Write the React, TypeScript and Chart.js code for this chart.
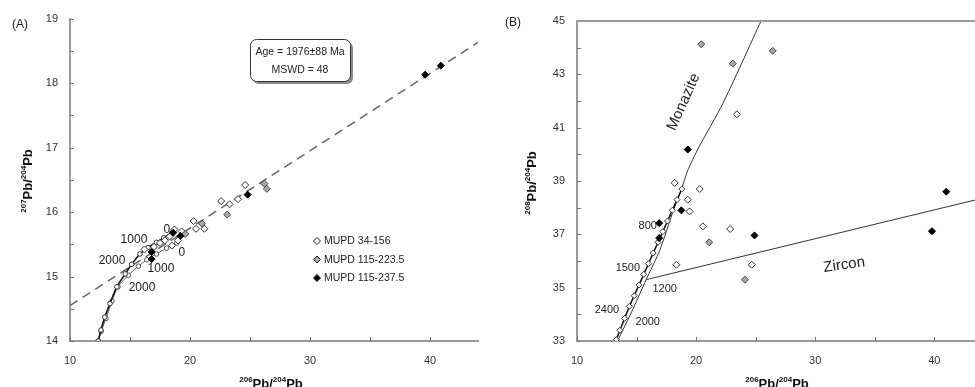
import React, { useEffect, useRef } from "react";
import { Chart, registerables } from "chart.js";
Chart.register(...registerables);

const FONT = "'Liberation Sans', Arial, Helvetica, sans-serif";

// ---------------- Panel A : 207Pb/204Pb vs 206Pb/204Pb ----------------
const xTicksA = [10, 15, 20, 25, 30, 35, 40];
const xLabelsA = [10, 20, 30, 40];
const yTicksA = [14, 14.5, 15, 15.5, 16, 16.5, 17, 17.5, 18, 18.5, 19];
const yLabelsA = [14, 15, 16, 17, 18, 19];

const regressionX = [10, 44];
const regressionY = [14.55, 18.63];

const curveA1X = [12.35, 12.58, 12.9, 13.33, 13.9, 14.6, 15.14, 15.83, 16.5, 17.2, 17.8, 18.5];
const curveA1Y = [14.0, 14.17, 14.37, 14.58, 14.84, 15.04, 15.19, 15.35, 15.45, 15.53, 15.6, 15.68];
const curveA2X = [12.35, 12.6, 13.0, 13.5, 14.0, 14.86, 15.7, 16.4, 17.2, 18.05, 18.9];
const curveA2Y = [14.0, 14.15, 14.35, 14.62, 14.84, 15.02, 15.16, 15.26, 15.35, 15.44, 15.52];

const openAX = [16.2, 17.0, 17.5, 17.9, 18.3, 18.7, 19.0, 18.5, 19.3, 20.3, 20.5, 21.2, 22.6, 23.3, 24.0, 24.6];
const openAY = [15.42, 15.46, 15.52, 15.56, 15.62, 15.73, 15.56, 15.48, 15.7, 15.86, 15.74, 15.74, 16.17, 16.12, 16.2, 16.42];
const grayAX = [19.6, 21.0, 23.1, 26.2, 26.4];
const grayAY = [15.66, 15.82, 15.96, 16.44, 16.36];
const blackAX = [16.8, 16.8, 18.6, 19.2, 24.8, 39.6, 40.9];
const blackAY = [15.38, 15.27, 15.68, 15.63, 16.27, 18.13, 18.27];

const ageTextA = ["1000", "2000", "0", "1000", "2000", "0"];
const ageXA = [15.33, 13.5, 18.08, 17.58, 16.0, 19.33];
const ageYA = [15.57, 15.25, 15.72, 15.12, 14.83, 15.37];

const legendNames = ["MUPD 34-156", "MUPD 115-223.5", "MUPD 115-237.5"];
const ageBoxLines = ["Age = 1976±88 Ma", "MSWD = 48"];

// ---------------- Panel B : 208Pb/204Pb vs 206Pb/204Pb ----------------
const xTicksB = [10, 15, 20, 25, 30, 35, 40];
const xLabelsB = [10, 20, 30, 40];
const yTicksB = [33, 34, 35, 36, 37, 38, 39, 40, 41, 42, 43, 44, 45];
const yLabelsB = [33, 35, 37, 39, 41, 43, 45];

const monaziteX = [13.4, 14.7, 15.8, 16.95, 18.06, 18.76, 19.3, 20.15, 22.24, 25.45];
const monaziteY = [33.0, 34.2, 35.3, 36.4, 37.86, 38.68, 39.4, 40.2, 41.9, 45.0];
const zirconX = [15.8, 44];
const zirconY = [35.3, 38.35];
const growthBX = [13.3, 13.6, 14.0, 14.4, 14.8, 15.2, 15.6, 16.0, 16.4, 16.8, 17.2, 17.6, 18.0, 18.4, 18.8];
const growthBY = [33.05, 33.4, 33.85, 34.3, 34.7, 35.1, 35.5, 35.9, 36.3, 36.7, 37.1, 37.5, 37.9, 38.3, 38.7];

const openBX = [18.2, 19.3, 19.45, 20.3, 20.57, 18.34, 22.86, 24.67, 23.42];
const openBY = [38.93, 38.3, 37.86, 38.7, 37.3, 35.86, 37.2, 35.86, 41.5];
const grayBX = [20.43, 23.08, 26.43, 21.1, 24.1];
const grayBY = [44.13, 43.4, 43.88, 36.7, 35.3];
const blackBX = [19.3, 16.9, 16.9, 18.76, 24.9, 39.8, 41.0];
const blackBY = [40.18, 37.42, 36.86, 37.9, 36.96, 37.12, 38.6];

const ageTextB = ["800", "1500", "1200", "2400", "2000"];
const ageXB = [15.94, 14.27, 17.36, 12.51, 15.94];
const ageYB = [37.31, 35.74, 34.95, 34.16, 33.71];

// -------------------------------------------------------------------
const pts = (xs: number[], ys: number[]) => xs.map((x, i) => ({ x, y: ys[i] }));

function drawIsotope(ctx: CanvasRenderingContext2D, cx: number, cy: number, rot: number, a: string, b: string) {
  const parts: [string, boolean][] = [[a, true], ["Pb", false], ["/", false], [b, true], ["Pb", false]];
  const big = `bold 13px ${FONT}`;
  const small = `bold 8px ${FONT}`;
  let total = 0;
  const widths = parts.map(([t, s]) => {
    ctx.font = s ? small : big;
    const w = ctx.measureText(t).width;
    total += w;
    return w;
  });
  ctx.save();
  ctx.translate(cx, cy);
  ctx.rotate(rot);
  ctx.fillStyle = "#111";
  ctx.textBaseline = "alphabetic";
  ctx.textAlign = "left";
  let x = -total / 2;
  parts.forEach(([t, s], i) => {
    ctx.font = s ? small : big;
    ctx.fillText(t, x, s ? -1 : 5);
    x += widths[i];
  });
  ctx.restore();
}

function drawInwardTicks(chart: any) {
  const { ctx, chartArea: a, scales } = chart;
  const sx = scales.x, sy = scales.y;
  ctx.save();
  ctx.strokeStyle = "#777";
  ctx.lineWidth = 1;
  sx.ticks.forEach((t: any) => {
    const p = Math.round(sx.getPixelForValue(t.value)) + 0.5;
    ctx.beginPath();
    ctx.moveTo(p, a.bottom);
    ctx.lineTo(p, a.bottom - 4);
    ctx.stroke();
  });
  sy.ticks.forEach((t: any) => {
    const p = Math.round(sy.getPixelForValue(t.value)) + 0.5;
    ctx.beginPath();
    ctx.moveTo(a.left, p);
    ctx.lineTo(a.left + 4, p);
    ctx.stroke();
  });
  ctx.restore();
}

function diamond(ctx: CanvasRenderingContext2D, x: number, y: number, r: number, fill: string) {
  ctx.beginPath();
  ctx.moveTo(x, y - r);
  ctx.lineTo(x + r, y);
  ctx.lineTo(x, y + r);
  ctx.lineTo(x - r, y);
  ctx.closePath();
  ctx.fillStyle = fill;
  ctx.fill();
  ctx.strokeStyle = "#222";
  ctx.lineWidth = 1;
  ctx.stroke();
}

const decorA = {
  id: "decorA",
  afterDraw(chart: any) {
    const { ctx, scales } = chart;
    const sx = scales.x, sy = scales.y;
    drawInwardTicks(chart);
    ctx.save();
    // age labels on growth curves
    ctx.font = `12px ${FONT}`;
    ctx.fillStyle = "#222";
    ctx.textAlign = "center";
    ctx.textBaseline = "middle";
    ageTextA.forEach((t, i) => ctx.fillText(t, sx.getPixelForValue(ageXA[i]), sy.getPixelForValue(ageYA[i])));
    // age box
    const bx = 250, by = 39, bw = 100, bh = 42;
    ctx.fillStyle = "#8a8a8a";
    ctx.beginPath();
    ctx.roundRect(bx + 3, by + 3, bw, bh, 6);
    ctx.fill();
    ctx.fillStyle = "#fff";
    ctx.strokeStyle = "#333";
    ctx.lineWidth = 1;
    ctx.beginPath();
    ctx.roundRect(bx + 0.5, by + 0.5, bw, bh, 6);
    ctx.fill();
    ctx.stroke();
    ctx.fillStyle = "#222";
    ctx.font = `10.5px ${FONT}`;
    ctx.fillText(ageBoxLines[0], bx + bw / 2, 52);
    ctx.fillText(ageBoxLines[1], bx + bw / 2, 70);
    // legend
    const fills = ["#fff", "#a8a8a8", "#000"];
    ctx.textAlign = "left";
    legendNames.forEach((n, i) => {
      const ly = 241 + i * 18.5;
      diamond(ctx, 317, ly, 3.5, fills[i]);
      ctx.fillStyle = "#222";
      ctx.font = `10.5px ${FONT}`;
      ctx.fillText(n, 324, ly + 0.5);
    });
    // panel letter
    ctx.font = `12px ${FONT}`;
    ctx.textAlign = "center";
    ctx.fillText("(A)", 20, 25);
    ctx.restore();
    drawIsotope(ctx, 27, 181, -Math.PI / 2, "207", "204");
    drawIsotope(ctx, 271, 383, 0, "206", "204");
  },
};

const decorB = {
  id: "decorB",
  afterDraw(chart: any) {
    const { ctx, scales, chartArea: a } = chart;
    const sx = scales.x, sy = scales.y;
    drawInwardTicks(chart);
    ctx.save();
    ctx.strokeStyle = "#9a9a9a";
    ctx.lineWidth = 2;
    ctx.beginPath();
    ctx.moveTo(a.left, a.top);
    ctx.lineTo(a.right, a.top);
    ctx.lineTo(a.right, a.bottom);
    ctx.stroke();
    ctx.font = `11px ${FONT}`;
    ctx.fillStyle = "#222";
    ctx.textAlign = "center";
    ctx.textBaseline = "middle";
    ageTextB.forEach((t, i) => ctx.fillText(t, sx.getPixelForValue(ageXB[i]), sy.getPixelForValue(ageYB[i])));
    ctx.font = `15px ${FONT}`;
    ctx.save();
    ctx.translate(sx.getPixelForValue(18.95), sy.getPixelForValue(41.96));
    ctx.rotate((-66 * Math.PI) / 180);
    ctx.fillText("Monazite", 0, 0);
    ctx.restore();
    ctx.save();
    ctx.translate(sx.getPixelForValue(32.43), sy.getPixelForValue(35.85));
    ctx.rotate((-8 * Math.PI) / 180);
    ctx.fillText("Zircon", 0, 0);
    ctx.restore();
    ctx.font = `12px ${FONT}`;
    ctx.fillText("(B)", 26, 23);
    ctx.restore();
    drawIsotope(ctx, 531 - 487, 183, -Math.PI / 2, "208", "204");
    drawIsotope(ctx, 777 - 487, 383, 0, "206", "204");
  },
};

function axisX(min: number, max: number, ticks: number[], labels: number[]) {
  return {
    type: "linear",
    min,
    max,
    afterBuildTicks: (s: any) => {
      s.ticks = ticks.map((v) => ({ value: v }));
    },
    afterFit: (s: any) => {
      s.height = 46;
    },
    grid: { display: true, drawOnChartArea: false, drawTicks: false },
    border: { display: true, color: "#9a9a9a", width: 2 },
    ticks: {
      padding: 13,
      autoSkip: false,
      maxRotation: 0,
      color: "#333",
      font: { family: FONT, size: 11 },
      callback: (v: number) => (labels.includes(v) ? String(v) : ""),
    },
  };
}

function axisY(min: number, max: number, ticks: number[], labels: number[], width: number) {
  return {
    type: "linear",
    min,
    max,
    afterBuildTicks: (s: any) => {
      s.ticks = ticks.map((v) => ({ value: v }));
    },
    afterFit: (s: any) => {
      s.width = width;
    },
    grid: { display: true, drawOnChartArea: false, drawTicks: false },
    border: { display: true, color: "#9a9a9a", width: 2 },
    ticks: {
      padding: 12,
      autoSkip: false,
      color: "#333",
      font: { family: FONT, size: 11 },
      callback: (v: number) => (labels.includes(v) ? String(v) : ""),
    },
  };
}

const pointSet = (data: any[], fill: string, border: string) => ({
  data,
  pointStyle: "rectRot",
  pointRadius: 3.5,
  pointBackgroundColor: fill,
  pointBorderColor: border,
  pointBorderWidth: 1,
  showLine: false,
});

export default function App() {
  const refA = useRef<HTMLCanvasElement>(null);
  const refB = useRef<HTMLCanvasElement>(null);

  useEffect(() => {
    const chartA = new Chart(refA.current as HTMLCanvasElement, {
      type: "scatter",
      data: {
        datasets: [
          pointSet(pts(blackAX, blackAY), "#000", "#000"),
          pointSet(pts(grayAX, grayAY), "#a8a8a8", "#444"),
          pointSet(pts(openAX, openAY), "#fff", "#333"),
          {
            data: pts(curveA1X, curveA1Y),
            showLine: true,
            borderColor: "#111",
            borderWidth: 1.6,
            tension: 0.3,
            pointStyle: "circle",
            pointRadius: 2.3,
            pointBackgroundColor: "#fff",
            pointBorderColor: "#333",
            pointBorderWidth: 1,
          },
          {
            data: pts(curveA2X, curveA2Y),
            showLine: true,
            borderColor: "#666",
            borderWidth: 1,
            tension: 0.3,
            pointStyle: "circle",
            pointRadius: 2.3,
            pointBackgroundColor: "#fff",
            pointBorderColor: "#555",
            pointBorderWidth: 1,
          },
          {
            data: pts(regressionX, regressionY),
            showLine: true,
            borderColor: "#666",
            borderWidth: 1.5,
            borderDash: [9, 6],
            pointRadius: 0,
          },
        ],
      },
      options: {
        animation: false,
        responsive: false,
        maintainAspectRatio: false,
        layout: { padding: { left: 0, right: 9, top: 18, bottom: 0 } },
        plugins: { legend: { display: false }, tooltip: { enabled: false } },
        scales: {
          x: axisX(10, 44, xTicksA, xLabelsA),
          y: axisY(14, 19, yTicksA, yLabelsA, 70),
        },
      } as any,
      plugins: [decorA],
    } as any);

    const chartB = new Chart(refB.current as HTMLCanvasElement, {
      type: "scatter",
      data: {
        datasets: [
          pointSet(pts(blackBX, blackBY), "#000", "#000"),
          pointSet(pts(grayBX, grayBY), "#a8a8a8", "#444"),
          pointSet(pts(openBX, openBY), "#fff", "#333"),
          {
            data: pts(growthBX, growthBY),
            showLine: true,
            borderColor: "#111",
            borderWidth: 1.5,
            pointStyle: "rectRot",
            pointRadius: 3,
            pointBackgroundColor: "#fff",
            pointBorderColor: "#333",
            pointBorderWidth: 1,
          },
          {
            data: pts(monaziteX, monaziteY),
            showLine: true,
            borderColor: "#333",
            borderWidth: 1,
            tension: 0.2,
            pointRadius: 0,
          },
          {
            data: pts(zirconX, zirconY),
            showLine: true,
            borderColor: "#333",
            borderWidth: 1,
            pointRadius: 0,
          },
        ],
      },
      options: {
        animation: false,
        responsive: false,
        maintainAspectRatio: false,
        layout: { padding: { left: 0, right: 4, top: 21, bottom: 0 } },
        plugins: { legend: { display: false }, tooltip: { enabled: false } },
        scales: {
          x: axisX(10, 44, xTicksB, xLabelsB),
          y: axisY(33, 45, yTicksB, yLabelsB, 90),
        },
      } as any,
      plugins: [decorB],
    } as any);

    return () => {
      chartA.destroy();
      chartB.destroy();
    };
  }, []);

  return (
    <div
      style={{
        position: "fixed",
        left: 0,
        top: 0,
        width: 975,
        height: 387,
        overflow: "hidden",
        background: "#fff",
      }}
    >
      <canvas ref={refA} width={487} height={387} style={{ position: "absolute", left: 0, top: 0, display: "block" }} />
      <canvas ref={refB} width={500} height={387} style={{ position: "absolute", left: 487, top: 0, display: "block" }} />
    </div>
  );
}
